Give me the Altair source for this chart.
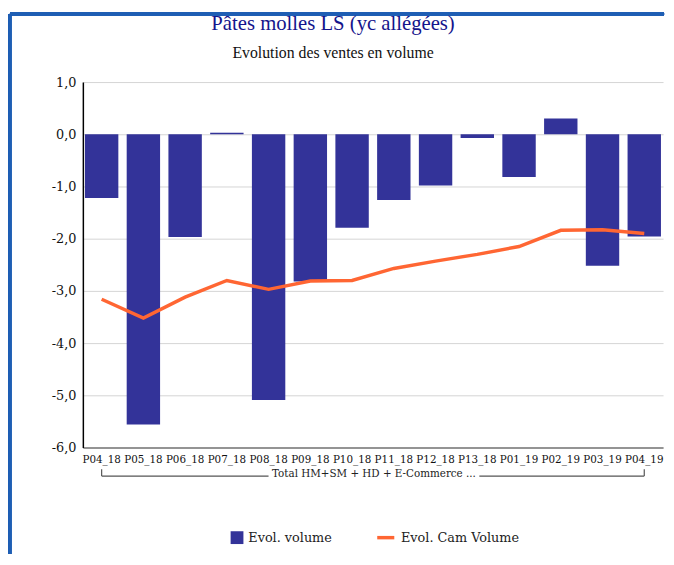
import altair as alt
import pandas as pd

# ---- data ----
categories = ["P04_18", "P05_18", "P06_18", "P07_18", "P08_18", "P09_18", "P10_18",
              "P11_18", "P12_18", "P13_18", "P01_19", "P02_19", "P03_19", "P04_19"]
evol_volume = [-1.22, -5.56, -1.97, 0.03, -5.09, -2.82, -1.79,
               -1.26, -0.98, -0.07, -0.82, 0.30, -2.52, -1.96]
evol_cam_volume = [-3.16, -3.52, -3.12, -2.80, -2.97, -2.81, -2.80,
                   -2.57, -2.43, -2.30, -2.15, -1.84, -1.83, -1.90]
y_ticks = [-6, -5, -4, -3, -2, -1, 0, 1]
title_text = "Pâtes molles LS (yc allégées)"
subtitle_text = "Evolution des ventes en volume"
group_label = "Total HM+SM + HD + E-Commerce ..."
series_names = ["Evol. volume", "Evol. Cam Volume"]

W, H = 589, 371
SERIF = "DejaVu Serif"
TITLE_FONT = "Liberation Serif"
BAR_COLOR = "#333399"
LINE_COLOR = "#FF6633"
FRAME_COLOR = "#1E5EB4"

df = pd.DataFrame({"cat": categories, "vol": evol_volume, "cam": evol_cam_volume})

x_scale = alt.Scale(domain=categories, paddingInner=0.2, paddingOuter=0.05)
x_axis = alt.Axis(title=None, labelAngle=0, labelFont=SERIF, labelFontSize=10.5,
                  labelColor="#111", labelPadding=7, ticks=False, domainColor="#777",
                  domainWidth=1.5, grid=False, labelOverlap=False)
y_scale = alt.Scale(domain=[-6, 1], nice=False, zero=True)
y_axis = alt.Axis(title=None, values=y_ticks,
                  labelExpr="replace(replace(format(datum.value, '.1f'), '.', ','), '\u2212', '-')",
                  labelFont=SERIF, labelFontSize=13, labelColor="#111", labelPadding=7,
                  ticks=False, domainColor="#000", domainWidth=1.5,
                  grid=True, gridColor="#d4d4d4", gridWidth=1)

X = alt.X("cat:N", sort=categories, scale=x_scale, axis=x_axis)

base = alt.Chart(df)

bars = base.mark_bar().encode(
    x=X,
    y=alt.Y("vol:Q", scale=y_scale, axis=y_axis),
    fill=alt.Fill("s1:N", scale=alt.Scale(domain=[series_names[0]], range=[BAR_COLOR]),
                  legend=alt.Legend(title=None, orient="none", legendX=150, legendY=456,
                                    symbolType="square", symbolSize=169, symbolStrokeWidth=0,
                                    labelFont=SERIF, labelFontSize=13, labelColor="#222",
                                    labelOffset=5, padding=0)),
).transform_calculate(s1="'Evol. volume'")

line = base.mark_line(strokeWidth=3.5).encode(
    x=X,
    y=alt.Y("cam:Q", scale=y_scale, axis=y_axis),
    stroke=alt.Stroke("s2:N", scale=alt.Scale(domain=[series_names[1]], range=[LINE_COLOR]),
                      legend=alt.Legend(title=None, orient="none", legendX=297, legendY=452,
                                        symbolType="stroke", symbolSize=300, symbolStrokeWidth=3.5,
                                        labelFont=SERIF, labelFontSize=13, labelColor="#222",
                                        labelOffset=5, padding=0)),
).transform_calculate(s2="'Evol. Cam Volume'")

# frame (left and top edges)
frame_left = base.mark_rule(color=FRAME_COLOR, strokeWidth=2.5).encode(
    x=alt.value(-74), y=alt.value(-69), y2=alt.value(H + 108))
frame_top = base.mark_rule(color=FRAME_COLOR, strokeWidth=2.5).encode(
    x=alt.value(-74), x2=alt.value(W + 1), y=alt.value(-69))

tdf = pd.DataFrame({"t": [title_text], "s": [subtitle_text]})
title = alt.Chart(tdf).mark_text(font=TITLE_FONT, fontSize=21, color="#14148C",
                                 align="center", baseline="middle").encode(
    x=alt.value(254), y=alt.value(-59), text="t:N")
subtitle = alt.Chart(tdf).mark_text(font=TITLE_FONT, fontSize=16, color="#111",
                                    align="center", baseline="middle").encode(
    x=alt.value(254), y=alt.value(-29), text="s:N")

# group bracket under the axis
first = pd.DataFrame({"cat": [categories[0]]})
last = pd.DataFrame({"cat": [categories[-1]]})
Xb = alt.X("cat:N", sort=categories, scale=x_scale, axis=x_axis)
BR = "#555"
br_l_tick = alt.Chart(first).mark_rule(color=BR, strokeWidth=1.2).encode(
    x=Xb, y=alt.value(H + 22), y2=alt.value(H + 29))
br_l_h = alt.Chart(first).mark_rule(color=BR, strokeWidth=1.2).encode(
    x=Xb, x2=alt.value(W / 2 - 106), y=alt.value(H + 29))
br_r_tick = alt.Chart(last).mark_rule(color=BR, strokeWidth=1.2).encode(
    x=Xb, y=alt.value(H + 22), y2=alt.value(H + 29))
br_r_h = alt.Chart(last).mark_rule(color=BR, strokeWidth=1.2).encode(
    x=Xb, x2=alt.value(W / 2 + 108), y=alt.value(H + 29))
gdf = pd.DataFrame({"g": [group_label]})
br_text = alt.Chart(gdf).mark_text(font=SERIF, fontSize=10.5, color="#222",
                                   align="center", baseline="middle").encode(
    x=alt.value(W / 2 + 1), y=alt.value(H + 27), text="g:N")

chart = alt.layer(
    bars, line, frame_left, frame_top, title, subtitle,
    br_l_tick, br_l_h, br_r_tick, br_r_h, br_text
).resolve_legend(fill="independent", stroke="independent").properties(
    width=W, height=H, padding=0, background="white"
).configure_view(stroke=None)

chart.save("out.html", embed_options={"renderer": "svg", "actions": False})
